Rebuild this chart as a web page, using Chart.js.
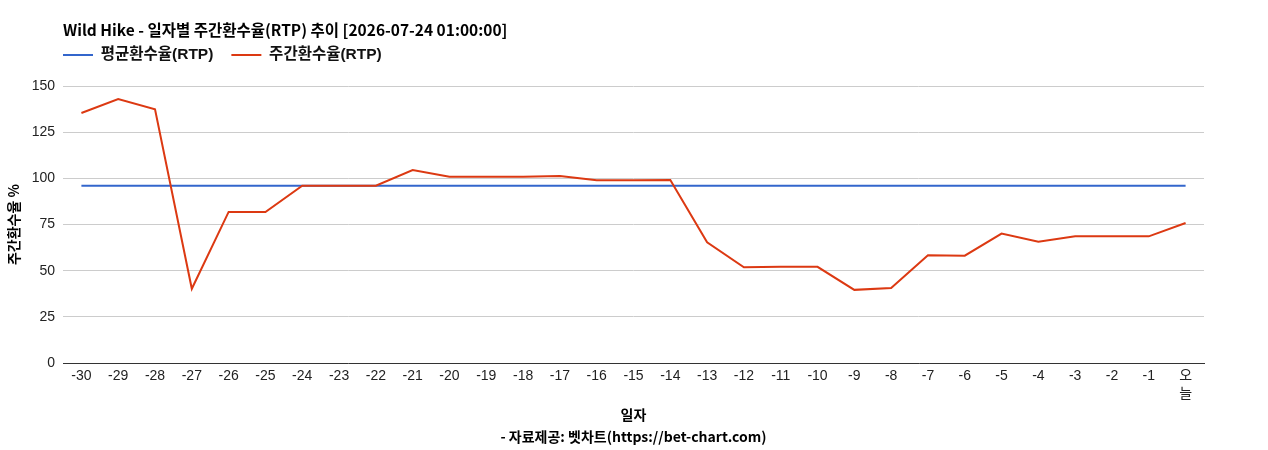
<!DOCTYPE html>
<html>
<head>
<meta charset="utf-8">
<script src="https://cdn.jsdelivr.net/npm/chart.js@4/dist/chart.umd.min.js"></script>
<style>
html,body{margin:0;padding:0;background:#ffffff;}
#wrap{width:1268px;height:450px;}
</style>
</head>
<body>
<div id="wrap"><canvas id="c" width="1268" height="450"></canvas></div>
<script>
// ---- data ----
const chartTitle = 'Wild Hike - 일자별 주간환수율(RTP) 추이 [2026-07-24 01:00:00]';
const footerText = '- 자료제공: 벳차트(https://bet-chart.com)';
const xAxisTitle = '일자';
const yAxisTitle = '주간환수율 %';
const seriesNames = ['평균환수율(RTP)', '주간환수율(RTP)'];
const categories = ['-30','-29','-28','-27','-26','-25','-24','-23','-22','-21','-20','-19','-18','-17','-16','-15','-14','-13','-12','-11','-10','-9','-8','-7','-6','-5','-4','-3','-2','-1',['오','늘']];
const weeklyRtp = [135.4,142.9,137.4,40.2,81.8,81.8,96,96,96,104.5,100.8,100.8,100.8,101.3,98.9,98.9,99.1,65.4,51.8,52.1,52.1,39.6,40.6,58.3,58.1,70.1,65.7,68.6,68.6,68.6,75.8];
const averageRtp = [96,96,96,96,96,96,96,96,96,96,96,96,96,96,96,96,96,96,96,96,96,96,96,96,96,96,96,96,96,96,96];
const yTicks = [0,25,50,75,100,125,150];

const colAvg = '#3366cc';
const colWeekly = '#dc3912';
const krFont = '"Noto Sans CJK KR", "Liberation Sans", sans-serif';
const numFont = '"Liberation Sans", Arial, "Noto Sans CJK KR", sans-serif';

const PLOT_LEFT = 63;

const shiftBlocks = {
  id: 'shiftBlocks',
  afterLayout(chart) {
    if (chart.titleBlock) chart.titleBlock.left = PLOT_LEFT;
    if (chart.legend) chart.legend.left = PLOT_LEFT - chart.options.plugins.legend.labels.padding;
  }
};

new Chart(document.getElementById('c'), {
  type: 'line',
  data: {
    labels: categories,
    datasets: [
      {
        label: seriesNames[1],
        data: weeklyRtp,
        borderColor: colWeekly,
        backgroundColor: colWeekly,
        borderWidth: 2,
        pointRadius: 0,
        pointHoverRadius: 0,
        tension: 0,
        fill: false
      },
      {
        label: seriesNames[0],
        data: averageRtp,
        borderColor: colAvg,
        backgroundColor: colAvg,
        borderWidth: 2,
        pointRadius: 0,
        pointHoverRadius: 0,
        tension: 0,
        fill: false
      }
    ]
  },
  options: {
    responsive: false,
    animation: false,
    devicePixelRatio: 1,
    layout: { padding: { top: 0, right: 64, bottom: 0, left: 0 } },
    plugins: {
      title: {
        display: true,
        text: chartTitle,
        align: 'start',
        color: '#000000',
        font: { family: krFont, size: 15.5, weight: 'bold', lineHeight: 1.2 },
        padding: { top: 20.7, bottom: -10.05 }
      },
      legend: {
        display: true,
        position: 'top',
        align: 'start',
        reverse: true,
        labels: {
          boxWidth: 30,
          boxHeight: 2,
          padding: 18,
          color: '#111111',
          font: { family: numFont, size: 15.5, weight: 'bold' },
          generateLabels(chart) {
            const items = Chart.defaults.plugins.legend.labels.generateLabels(chart);
            return items.map(it => Object.assign(it, { fillStyle: it.strokeStyle, lineWidth: 0 }));
          }
        }
      },
      subtitle: {
        display: true,
        text: '',
        position: 'top',
        weight: 500,
        font: { size: 12, lineHeight: 1 },
        padding: { top: 1.25, bottom: 0 }
      },
      tooltip: { enabled: false }
    },
    scales: {
      x: {
        type: 'category',
        offset: true,
        grid: { display: false, drawTicks: false },
        border: { display: true, color: '#333333', width: 1 },
        ticks: {
          color: '#222222',
          font: { family: numFont, size: 14, lineHeight: '18px' },
          padding: 4,
          maxRotation: 0,
          minRotation: 0,
          autoSkip: false
        },
        title: {
          display: true,
          text: [xAxisTitle, footerText],
          color: '#000000',
          font: { family: krFont, size: 14, weight: 'bold', lineHeight: '22px' },
          padding: { top: 0, bottom: 2 }
        },
        afterFit(scale) { scale.height = 87; }
      },
      y: {
        type: 'linear',
        min: 0,
        max: 150,
        afterBuildTicks(scale) { scale.ticks = yTicks.map(v => ({ value: v })); },
        grid: { color: '#cccccc', lineWidth: 1, drawTicks: false },
        border: { display: false },
        ticks: {
          color: '#222222',
          font: { family: numFont, size: 14 },
          padding: 8
        },
        title: {
          display: true,
          text: yAxisTitle,
          color: '#000000',
          font: { family: krFont, size: 14, weight: 'bold', lineHeight: 1.2 },
          padding: { top: 5.6, bottom: 0 }
        },
        afterFit(scale) { scale.width = PLOT_LEFT; }
      }
    }
  },
  plugins: [shiftBlocks]
});
</script>
</body>
</html>
